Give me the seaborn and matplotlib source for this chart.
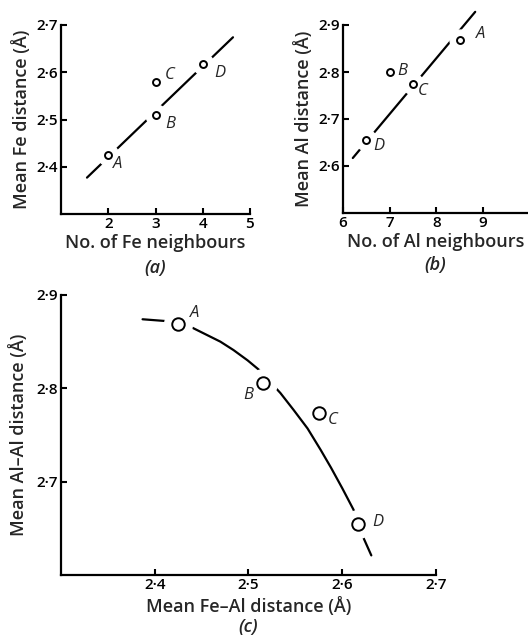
import numpy as np
import pandas as pd
import seaborn as sns
import matplotlib.pyplot as plt
from matplotlib.ticker import FixedLocator, FixedFormatter

sns.set_theme(style="ticks")
plt.rcParams['font.family'] = ['Open Sans', 'DejaVu Sans']

# (a) Fe neighbours vs mean Fe distance
a_labels = ['A', 'B', 'C', 'D']
a_x = [2, 3, 3, 4]
a_y = [2.424, 2.51, 2.579, 2.617]
a_line_x = [1.55, 4.64]
a_line_y = [2.377, 2.674]
a_xticks = [2, 3, 4, 5]
a_yticks = [2.4, 2.5, 2.6, 2.7]

# (b) Al neighbours vs mean Al distance
b_labels = ['A', 'B', 'C', 'D']
b_x = [8.5, 7.0, 7.5, 6.5]
b_y = [2.868, 2.80, 2.775, 2.655]
b_line_x = [6.21, 8.83]
b_line_y = [2.617, 2.928]
b_xticks = [6, 7, 8, 9]
b_yticks = [2.6, 2.7, 2.8, 2.9]

# (c) mean Fe-Al vs mean Al-Al distance
c_labels = ['A', 'B', 'C', 'D']
c_x = [2.425, 2.516, 2.575, 2.617]
c_y = [2.869, 2.806, 2.774, 2.655]
c_curve_x = [2.387, 2.413, 2.440, 2.456, 2.470, 2.484, 2.499, 2.511, 2.534,
             2.548, 2.563, 2.577, 2.588, 2.600, 2.612, 2.623, 2.631]
c_curve_y = [2.874, 2.872, 2.865, 2.857, 2.850, 2.841, 2.830, 2.820, 2.795,
             2.777, 2.757, 2.734, 2.715, 2.693, 2.670, 2.639, 2.621]
c_xticks = [2.4, 2.5, 2.6, 2.7]
c_yticks = [2.7, 2.8, 2.9]

# label offsets (points) for the A-D annotations
a_offsets = [(7, -6), (11, -7), (10, 5), (12, -6)]
b_offsets = [(15, 4), (9, 1), (7, -5), (9, -4)]
c_offsets = [(12, 8), (-11, -9), (10, -5), (14, 1)]

TXT = dict(fontsize=13, fontweight='semibold')


def dot(v):
    return f"{v:.1f}".replace('.', '\u00b7') if v % 1 else f"{v:.0f}"


def style_axes(ax, xticks, yticks):
    sns.despine(ax=ax)
    for s in ['left', 'bottom']:
        ax.spines[s].set_linewidth(1.6)
        ax.spines[s].set_color('black')
    ax.xaxis.set_major_locator(FixedLocator(xticks))
    ax.xaxis.set_major_formatter(FixedFormatter([dot(v) for v in xticks]))
    ax.yaxis.set_major_locator(FixedLocator(yticks))
    ax.yaxis.set_major_formatter(FixedFormatter([dot(v) for v in yticks]))
    ax.tick_params(direction='in', length=4, width=1.5, colors='black',
                   labelsize=11, pad=2)
    for t in ax.get_xticklabels() + ax.get_yticklabels():
        t.set_fontweight('semibold')
    ax.set_facecolor('white')


def draw_panel(ax, lx, ly, px, py, labels, offsets, ms, halo, fs=12):
    sns.lineplot(x=lx, y=ly, ax=ax, color='black', lw=1.6, sort=False,
                 estimator=None)
    ax.lines[-1].set_clip_on(False)
    ax.plot(px, py, 'o', ms=halo, mfc='white', mec='white', zorder=3,
            clip_on=False)
    ax.plot(px, py, 'o', ms=ms, mfc='white', mec='black', mew=1.4, zorder=4,
            clip_on=False)
    for lab, x, y, off in zip(labels, px, py, offsets):
        ax.annotate(lab, (x, y), xytext=off, textcoords='offset points',
                    ha='center', va='center', style='italic', fontsize=fs,
                    zorder=5)


def sub_label(ax, text, below_px, height_px):
    ax.text(0.5, -below_px / height_px, text, transform=ax.transAxes,
            ha='center', va='center', style='italic', **TXT)


fig = plt.figure(figsize=(5.28, 6.39), dpi=100)
fig.patch.set_facecolor('white')

ax_a = fig.add_axes([61 / 528, 1 - 214 / 639, 189 / 528, 189 / 639])
draw_panel(ax_a, a_line_x, a_line_y, a_x, a_y, a_labels, a_offsets, 5, 15)
ax_a.set_xlim(1, 5)
ax_a.set_ylim(2.3, 2.7)
style_axes(ax_a, a_xticks, a_yticks)
ax_a.set_xlabel("No. of Fe neighbours", labelpad=2, **TXT)
ax_a.set_ylabel("Mean Fe distance (\u00c5)", labelpad=4, **TXT)
sub_label(ax_a, "(a)", 54, 189)

ax_b = fig.add_axes([343 / 528, 1 - 213 / 639, 185 / 528, 188 / 639])
draw_panel(ax_b, b_line_x, b_line_y, b_x, b_y, b_labels, b_offsets, 5, 15)
ax_b.set_xlim(6, 9.96)
ax_b.set_ylim(2.5, 2.9)
style_axes(ax_b, b_xticks, b_yticks)
ax_b.set_xlabel("No. of Al neighbours", labelpad=2, **TXT)
ax_b.set_ylabel("Mean Al distance (\u00c5)", labelpad=4, **TXT)
sub_label(ax_b, "(b)", 52, 188)

ax_c = fig.add_axes([61 / 528, 1 - 575 / 639, 375 / 528, 280 / 639])
draw_panel(ax_c, c_curve_x, c_curve_y, c_x, c_y, c_labels, c_offsets, 9, 20)
ax_c.set_xlim(2.3, 2.7)
ax_c.set_ylim(2.6, 2.9)
style_axes(ax_c, c_xticks, c_yticks)
ax_c.set_xlabel("Mean Fe\u2013Al distance (\u00c5)", labelpad=4, **TXT)
ax_c.set_ylabel("Mean Al\u2013Al distance (\u00c5)", labelpad=6, **TXT)
sub_label(ax_c, "(c)", 52, 280)

fig.savefig("out.png", dpi=100, facecolor='white')
